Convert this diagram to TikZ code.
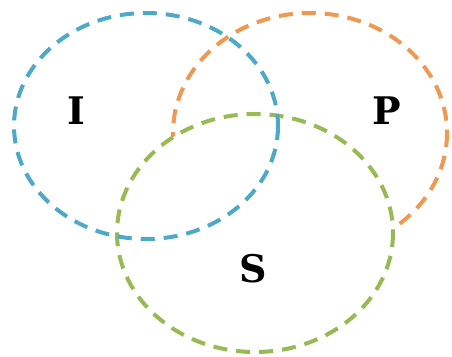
\documentclass[tikz,border=0pt]{standalone}
\usepackage{fontspec}
\setmainfont{DejaVu Serif}
\definecolor{ringblue}{RGB}{78,168,200}
\definecolor{ringorange}{RGB}{238,152,82}
\definecolor{ringgreen}{RGB}{152,186,84}
\tikzset{
  ring/.style={line width=4pt, dash pattern=on 14pt off 9pt},
  letter/.style={font=\fontsize{38}{38}\selectfont\bfseries}
}
\begin{document}
\begin{tikzpicture}[x=1pt, y=-1pt]
\useasboundingbox (0,0) rectangle (452,356);
% the three sets
\draw[ring, ringorange] (310,133) ellipse [x radius=137, y radius=120];
\draw[ring, ringgreen, fill=white] (255,233) ellipse [x radius=138, y radius=119];
\draw[ring, ringblue] (146,126) ellipse [x radius=132, y radius=113];
% labels
\node[letter] (I) at (76,111) {I};
\node[letter] (P) at (387,111) {P};
\node[letter] (S) at (253,269) {S};
\end{tikzpicture}
\end{document}
